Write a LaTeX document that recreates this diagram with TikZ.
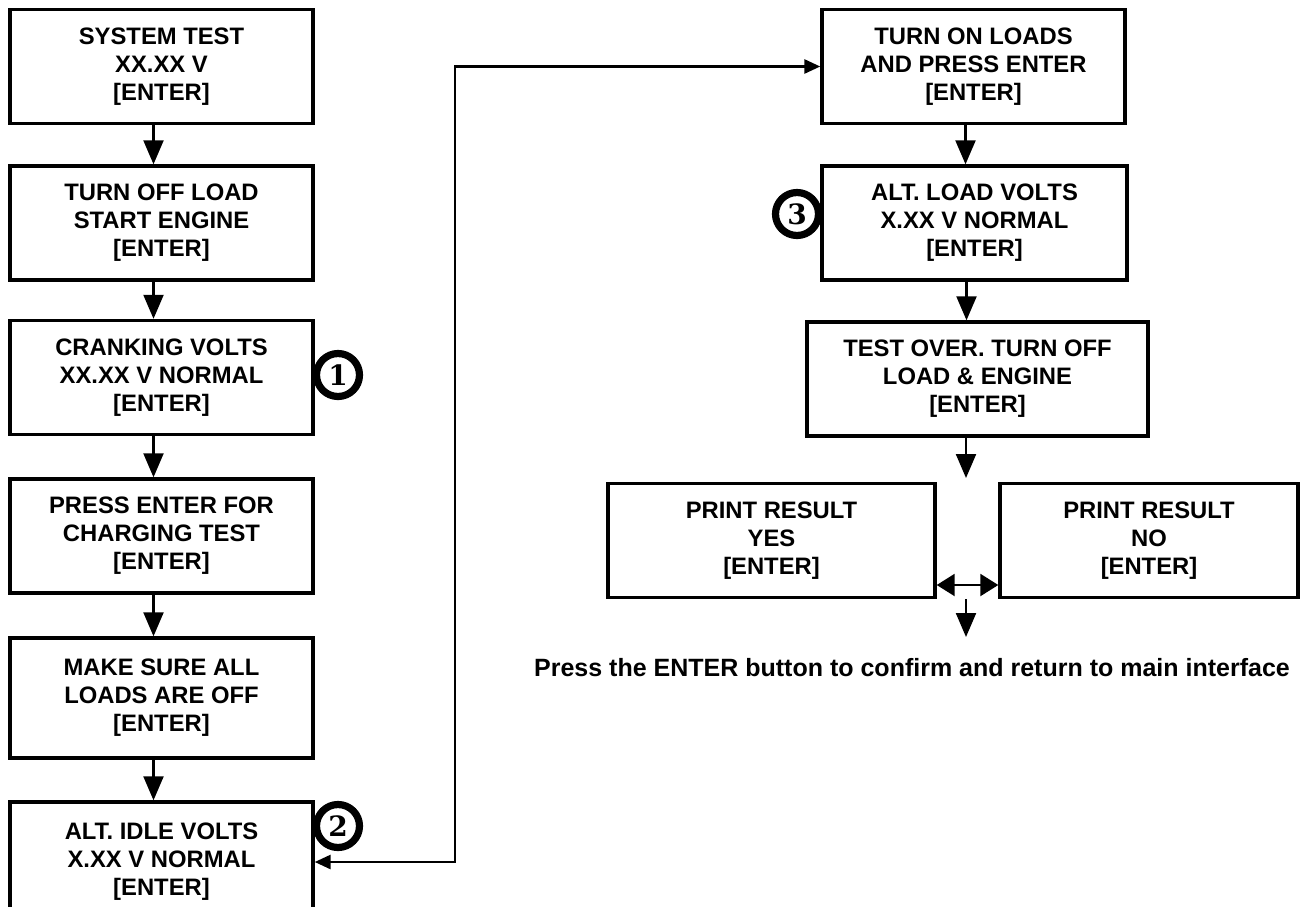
\documentclass[tikz,border=0pt]{standalone}
\usepackage{fontspec}
\setsansfont{Liberation Sans}
\newfontfamily\circfont{DejaVu Serif}
\usetikzlibrary{arrows.meta,positioning}

\begin{document}
\begin{tikzpicture}[x=0.5pt,y=-0.5pt]
\tikzset{
  stepbox/.style={draw,line width=1.7pt,align=center,inner sep=2pt,
    font=\sffamily\bfseries\fontsize{11.9}{14}\selectfont,
    minimum width=151.5pt,minimum height=57pt},
  flow/.style={-{Triangle[length=12pt,width=10pt]},line width=1.1pt},
  twoway/.style={{Triangle[length=9pt,width=11pt]}-{Triangle[length=9pt,width=11pt]},line width=1.1pt},
  link/.style={{Triangle[length=8pt,width=7pt]}-{Triangle[length=8pt,width=7pt]},line width=1.4pt},
  marker/.style={circle,draw,line width=3.6pt,minimum size=21.5pt,inner sep=0pt,
    font=\circfont\bfseries\fontsize{14}{14}\selectfont}
}
\path[use as bounding box] (0,0) rectangle (1301,906);
\clip (0,0) rectangle (1301,906);

% left column
\node[stepbox] (b1) at (161.5,66.5) {SYSTEM TEST\\XX.XX V\\{[ENTER]}};
\node[stepbox] (b2) at (161.5,223) {TURN OFF LOAD\\START ENGINE\\{[ENTER]}};
\node[stepbox] (b3) at (161.5,377.5) {CRANKING VOLTS\\XX.XX V NORMAL\\{[ENTER]}};
\node[stepbox] (b4) at (161.5,536) {PRESS ENTER FOR\\CHARGING TEST\\{[ENTER]}};
\node[stepbox,minimum height=60pt] (b5) at (161.5,698) {MAKE SURE ALL\\LOADS ARE OFF\\{[ENTER]}};
\node[stepbox,minimum height=60pt] (b6) at (161.5,862) {ALT. IDLE VOLTS\\X.XX V NORMAL\\{[ENTER]}};

% right column
\node[stepbox] (r1) at (973.5,66.5) {TURN ON LOADS\\AND PRESS ENTER\\{[ENTER]}};
\node[stepbox,minimum width=152.5pt] (r2) at (974.5,223) {ALT. LOAD VOLTS\\X.XX V NORMAL\\{[ENTER]}};
\node[stepbox,minimum width=170.5pt] (r3) at (977.5,379) {TEST OVER. TURN OFF\\LOAD \& ENGINE\\{[ENTER]}};
\node[stepbox,minimum width=163.5pt] (yes) at (771.5,540.5) {PRINT RESULT\\YES\\{[ENTER]}};
\node[stepbox,minimum width=149pt] (no) at (1149,540.5) {PRINT RESULT\\NO\\{[ENTER]}};

% numbered markers
\node[marker] (m1) at (338,375) {1};
\node[marker] (m2) at (338,826) {2};
\node[marker] (m3) at (797,214) {3};

\node[font=\sffamily\bfseries\fontsize{12.5}{14}\selectfont] (note) at (912,668)
  {Press the ENTER button to confirm and return to main interface};

% connectors
\foreach \a/\b in {b1/b2,b2/b3,b3/b4,b4/b5,b5/b6,r1/r2,r2/r3}
  \draw[flow] ([xshift=-4pt]\a.south) -- ([xshift=-4pt]\a.south |- \b.north);
\coordinate (bend) at (455,0);
\draw[link] (b6.east) -- (b6.east -| bend) -- (bend |- r1.west) -- (r1.west);
\coordinate (split) at (966,478);
\draw[flow] (r3.south -| split) -- (split);
\coordinate (dbl) at (966,585);
\draw[twoway] (yes.east |- dbl) -- (no.west |- dbl);
\coordinate (done) at (966,637);
\draw[flow] (yes.south -| done) -- (done);
\end{tikzpicture}
\end{document}
